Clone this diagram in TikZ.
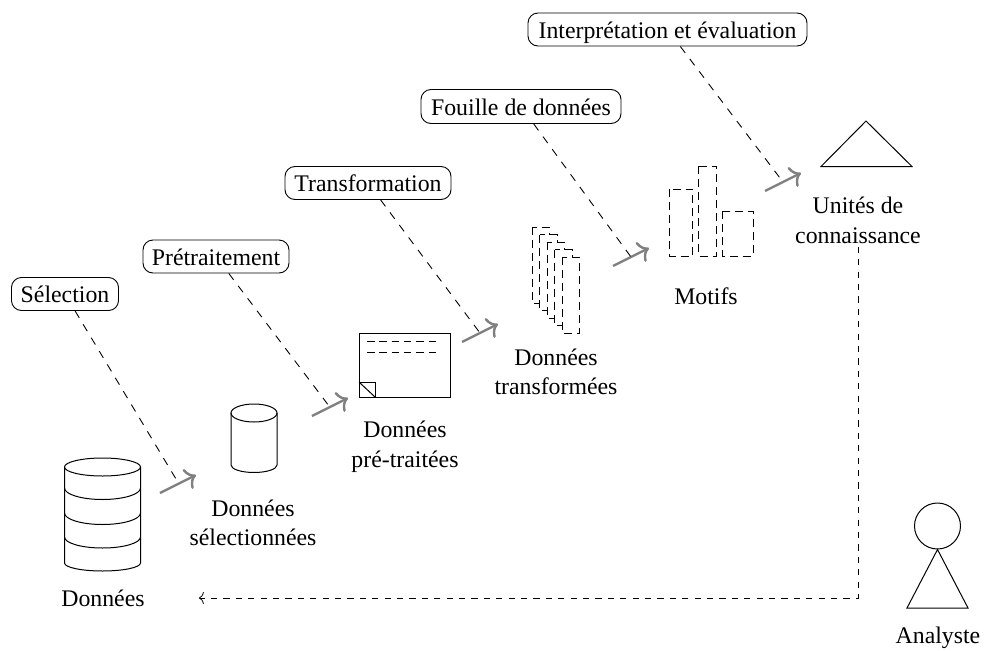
\documentclass[tikz,border=0pt]{standalone}
\usepackage{fontspec}
\setmainfont{Liberation Serif}
\usetikzlibrary{arrows.meta}
\tikzset{
  boxlabel/.style={draw,rounded corners=10pt,line width=0.9pt,inner sep=0pt,text height=21.5pt,text depth=4pt,font=\fontsize{23.8}{29}\selectfont},
  caption/.style={align=center,inner sep=0pt,font=\fontsize{23.8}{29.5}\selectfont},
  flow/.style={draw=black!50,line width=2.4pt,-{To[length=10pt,width=22pt,line width=2.4pt]}},
  link/.style={line width=0.9pt,dash pattern=on 8pt off 7.6pt},
  backlink/.style={line width=0.9pt,dash pattern=on 6.2pt off 6.2pt},
  shapeline/.style={line width=1pt},
  dashbox/.style={draw,fill=white,line width=1pt,dash pattern=on 8pt off 5pt}
}
\begin{document}
\begin{tikzpicture}[x=1pt,y=-1pt]
\useasboundingbox (0,0) rectangle (986,651);
% step boxes
\node[boxlabel,minimum width=107pt,minimum height=33pt] (sel) at (65,294) {Sélection};
\node[boxlabel,minimum width=146pt,minimum height=33pt] (pre) at (216,256.5) {Prétraitement};
\node[boxlabel,minimum width=166pt,minimum height=33pt] (tra) at (368,183) {Transformation};
\node[boxlabel,minimum width=200pt,minimum height=34pt] (fou) at (521,106.5) {Fouille de données};
\node[boxlabel,minimum width=279pt,minimum height=33pt] (int) at (667.5,29.5) {Interprétation et évaluation};
% captions
\node[caption] (don) at (103,598) {Données};
\node[caption] (dse) at (253,523) {Données\\sélectionnées};
\node[caption] (dpr) at (405,447) {Données\\pré-traitées};
\node[caption] (dtr) at (556,372) {Données\\transformées};
\node[caption] (mot) at (706,296) {Motifs};
\node[caption] (uni) at (858,220.5) {Unités de\\connaissance};
\node[caption] (ana) at (938,638) {Analyste};
% flow arrows
\coordinate (a1) at (160,493); \coordinate (b1) at (196,475); \coordinate (m1) at (179,484);
\coordinate (a2) at (312,416); \coordinate (b2) at (348,398); \coordinate (m2) at (329,406);
\coordinate (a3) at (462,342); \coordinate (b3) at (498,324); \coordinate (m3) at (480,333);
\coordinate (a4) at (613,266); \coordinate (b4) at (649,248); \coordinate (m4) at (631,257);
\coordinate (a5) at (765,191); \coordinate (b5) at (801,173); \coordinate (m5) at (783,182);
\draw[flow] (a1) -- (b1);
\draw[flow] (a2) -- (b2);
\draw[flow] (a3) -- (b3);
\draw[flow] (a4) -- (b4);
\draw[flow] (a5) -- (b5);
% dashed links
\draw[link] (sel) -- (m1);
\draw[link] (pre) -- (m2);
\draw[link] (tra) -- (m3);
\draw[link] (fou) -- (m4);
\draw[link] (int) -- (m5);
\draw[backlink,-{To[length=5pt,width=12pt,line width=0.8pt]},shorten >=54pt,shorten <=3pt] (uni.south) |- (don.east);
% big cylinder
\draw[shapeline] (102.5,467) ellipse [x radius=38,y radius=9];
\draw[shapeline] (64.5,467) -- (64.5,563) arc[start angle=180,end angle=0,x radius=38,y radius=8] -- (140.5,467);
\draw[shapeline] (64.5,488) arc[start angle=180,end angle=0,x radius=38,y radius=11.5];
\draw[shapeline] (64.5,513) arc[start angle=180,end angle=0,x radius=38,y radius=11.5];
\draw[shapeline] (64.5,537) arc[start angle=180,end angle=0,x radius=38,y radius=11];
% small cylinder
\draw[shapeline] (254,413) ellipse [x radius=23,y radius=9];
\draw[shapeline] (231,413) -- (231,465) arc[start angle=180,end angle=0,x radius=23,y radius=7.5] -- (277,413);
% document
\draw[shapeline] (359,333) rectangle (450,397);
\draw[shapeline] (359,382) rectangle (375,397);
\draw[shapeline] (359,382) -- (375,397);
\draw[line width=1pt,dash pattern=on 7.5pt off 4.8pt] (367,341) -- (440,341);
\draw[line width=1pt,dash pattern=on 7.5pt off 4.8pt] (367,352) -- (440,352);
% stacked tables
\foreach \i in {0,...,4}{
  \draw[dashbox] ({532+7.6*\i},{227+7.5*\i}) rectangle ++(17.5,76);
}
% bars
\draw[dashbox,fill=none] (669.5,189) rectangle (692.5,256);
\draw[dashbox,fill=none] (698.5,166) rectangle (716.5,256);
\draw[dashbox,fill=none] (722.7,211) rectangle (753,256);
% triangle
\draw[shapeline] (821,166.5) -- (866,121) -- (912,166.5) -- cycle;
% analyst
\node[draw,circle,line width=1pt,minimum size=46pt,inner sep=0pt] (head) at (937.5,526) {};
\draw[shapeline] (head.south) -- (907,608) -- (968,608) -- cycle;
\end{tikzpicture}
\end{document}
